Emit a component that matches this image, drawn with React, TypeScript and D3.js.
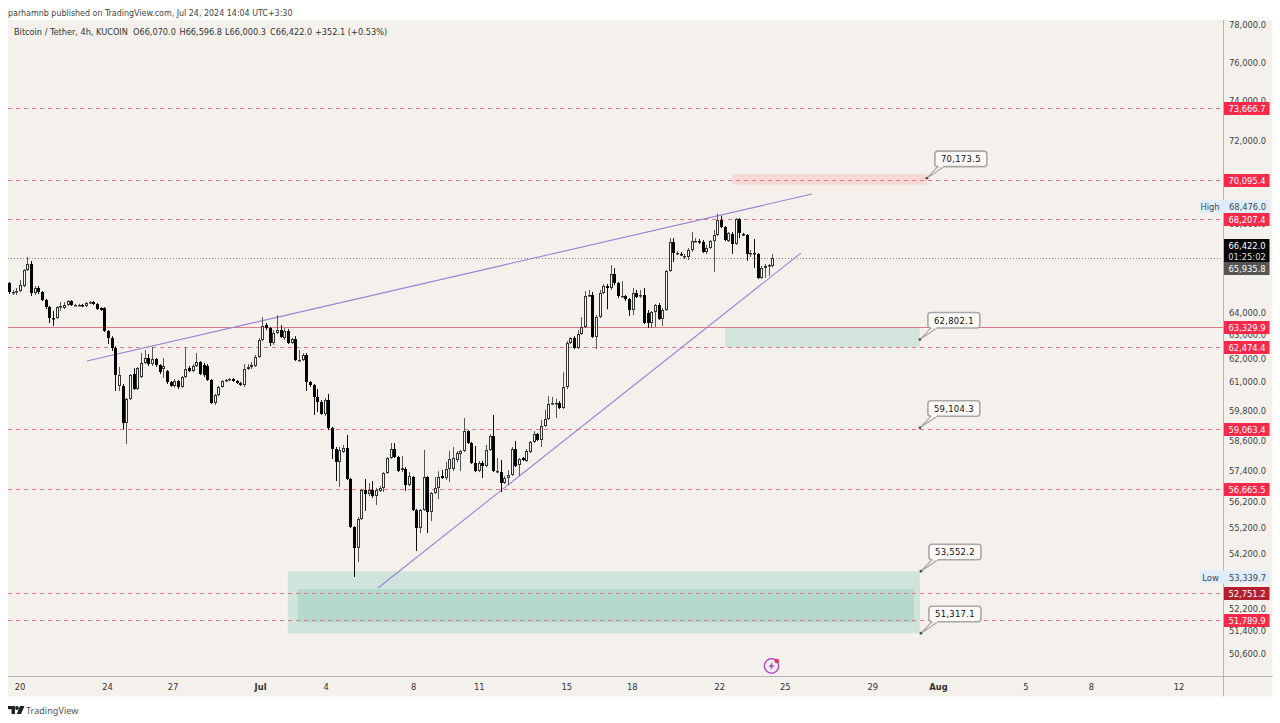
import React from "react";
import * as d3 from "d3";

const opens = [
65290,64890,64890,64930,65160,65880,66150,64850,65070,64890,
64530,64220,63740,63740,64220,64180,64310,64490,64310,64310,
64310,64270,64400,64440,64360,64180,64180,63170,62870,62440,
60830,60830,59300,60290,61330,60700,61210,61800,62010,61750,
61970,61710,61540,61460,61000,60830,61040,60790,61210,61580,
61460,61670,61840,61710,61670,61080,60120,60450,60790,61040,
61080,61120,61040,60960,60870,61540,61630,61670,62050,62780,
63430,63300,62650,63080,63210,62870,63170,62650,62820,61920,
61920,62140,61000,60870,60370,60160,59670,60240,59090,58250,
57730,58130,58290,57060,55200,54410,55510,56630,56470,56630,
56390,56590,56710,57290,57890,58250,57930,57410,57450,56820,
57140,55860,55170,55860,57140,55780,56510,56710,57180,57100,
57450,57450,57810,58050,58170,58970,58490,57690,57370,57690,
57570,58210,58770,57370,57330,56900,57100,57220,58250,57610,
57890,57770,58130,58530,58850,58610,59180,59460,60080,60080,
60120,59910,60790,62650,62870,62440,63040,63350,64710,64760,
62910,63780,64850,65160,65070,65700,65290,64710,64710,64580,
64090,64850,64760,64760,63960,63520,64000,64310,63700,64090,
65830,67160,66650,66610,66520,66470,66790,67200,67200,67160,
66700,66880,67200,67480,68180,67850,67200,67530,67070,68230,
67530,67480,66650,66650,66610,65520,65970,66060,66070];

const closes = [
64890,64890,64930,65200,65880,66150,64850,65070,64890,64530,
64220,63740,63700,64220,64270,64310,64490,64310,64310,64310,
64270,64400,64440,64360,64130,64090,63170,62870,62440,61290,
61290,59300,60290,61290,60700,61580,61800,62010,61750,61970,
61710,61410,61670,61000,60830,61040,60790,61210,61540,61460,
61670,61840,61330,61290,61080,60120,60450,60790,61040,61080,
61120,61040,60960,60870,61540,61630,61710,62050,62780,63390,
63300,62650,63080,63210,62910,63170,62650,62820,61920,61920,
62140,61000,60870,60370,60160,59670,60240,59090,58250,57730,
58210,58290,57060,55200,54410,55510,56630,56470,56630,56390,
56630,56710,57290,57890,58250,57930,57370,57490,56820,57180,
55860,55170,55860,57140,55780,56510,56710,57140,57100,57450,
57850,57890,58090,58170,58970,58490,57690,57370,57690,57570,
58210,58770,57370,57370,56900,57100,57220,58250,57570,57850,
57810,58170,58530,58850,58610,59180,59460,60080,60120,60120,
59910,60790,62650,62870,62440,63040,63350,64710,64760,62910,
63780,64850,65160,65070,65700,65290,64710,64710,64580,64090,
64850,64670,64760,63520,63520,64000,64310,63700,64090,65830,
67160,66650,66650,66560,66520,66790,67200,67200,67160,66700,
66880,67200,67480,68180,67850,67250,67580,67070,68230,67580,
67480,66610,66650,66610,65520,65970,66060,66100,66422];

const highs = [
65340,64980,65070,65430,65920,66470,66290,65160,65160,64930,
64580,64270,64050,64270,64440,64440,64530,64530,64360,64360,
64360,64440,64490,64490,64400,64220,64220,63210,62950,62520,
61630,60910,60330,61330,61580,61630,62220,62350,62180,62480,
62010,61750,62010,61500,61040,61120,61080,61250,62440,61670,
61750,62220,61880,61800,61750,61120,60500,60830,61080,61120,
61160,61160,61080,61000,61750,61750,61840,62140,62870,63780,
63520,63350,63210,63870,63430,63300,63260,62870,62950,62350,
62220,62220,61040,60910,60700,60240,60330,60500,59140,58330,
58330,58410,58810,57100,55240,55590,56670,57060,56900,56980,
56710,56780,57330,57930,58490,58490,57970,57970,57530,57330,
57180,55900,55900,58210,57180,56550,57140,57370,57410,57730,
58170,58330,58170,58210,59500,59010,58530,58370,57770,57770,
58410,58850,59630,57890,57810,57180,57410,58330,58570,57890,
57930,58250,58570,58970,58890,59420,59830,60410,60370,60290,
60200,61410,62740,62910,62950,63210,63780,64930,64980,64890,
63870,64980,65250,65250,66100,65970,65340,65380,64760,64620,
65070,64980,64980,65070,64090,64050,64360,64400,64180,65880,
67340,67340,66740,66700,66610,66880,67620,67340,67300,67250,
67020,67250,67720,68476,68380,67900,67620,67620,68280,68280,
67580,67530,66790,67300,66650,66060,66150,66150,66597];

const lows = [
64800,64760,64760,64890,65110,65830,64710,64760,64800,64490,
64130,63520,63390,63700,64050,64130,64270,64270,64270,64270,
64220,64220,64360,64310,64090,64050,63130,62610,62310,60620,
60620,59050,58450,60240,60660,60660,61160,61750,61670,61670,
61630,61330,61160,60910,60790,60750,60700,60750,61160,61410,
61410,61630,61290,61210,61040,60080,60040,60410,60750,61000,
61040,61000,60910,60830,60790,61500,61540,61630,62010,62740,
63210,62520,62570,63040,62870,62780,62610,62610,61880,61880,
61880,60620,60790,59630,59750,59630,59580,59010,57850,56980,
56750,58090,57020,55170,53340,53890,55470,55820,56390,56320,
56050,56550,56550,57260,57850,57890,57330,57330,56590,56780,
55820,54300,54980,55820,54980,55430,56470,56280,57060,57020,
56940,57370,57730,57370,58130,58450,57650,57330,57330,57100,
57530,58170,57330,57290,56550,56860,56820,57180,57530,57180,
57770,57730,58090,58490,58570,58330,59140,59420,60040,59500,
59870,59870,60700,62610,62390,62390,63000,63300,64670,62870,
62390,63740,64800,64130,64980,65200,64620,64670,64490,63830,
63870,64620,64620,63480,63300,63300,63350,63650,63390,64050,
65790,66240,66560,66520,66380,66330,66700,67160,67070,66650,
66610,66840,65790,67440,67810,67200,67160,66610,67020,67340,
67440,66290,66470,65970,65470,65470,65520,65610,66000];

const priceTicks = [78000,76000,74000,72000,68000,64000,63000,62000,61000,59800,58600,57400,56200,55200,54200,52200,51400,50600];
const dashedLevels = [73666.7,70095.4,68207.4,62474.4,59063.4,56665.5,52751.2,51789.9];
const solidLevel = 63329.9;
const lastPrice = 66422.0;
const redTags = [73666.7,70095.4,68207.4,63329.9,62474.4,59063.4,56665.5,51789.9];
const darkRedTag = 52751.2;

// days counted from Jun 20
const timeLabels = ["20","24","27","Jul","4","8","11","15","18","22","25","29","Aug","5","8","12"];
const timeDays = [0,4,7,11,14,18,21,25,28,32,35,39,42,46,49,53];
const boldLabels = ["Jul","Aug"];

// trend lines: [day, price, day, price]
const upperTrend = [3.06,61880,36.21,69410];
const lowerTrend = [16.37,52940,35.71,66650];

// zones: [dayStart, dayEnd, priceTop, priceBottom]
const outerSupport = [12.25,41.15,53552.2,51317.1];
const innerSupport = [12.71,40.88,52900,51710];
const midSupport = [32.24,41.15,63329.9,62474.4];
const resistance = [32.56,41.47,70370,69860];

// callouts: [day, price]
const calloutDays = [41.47,41.15,41.15,41.2,41.2];
const calloutPrices = [70173.5,62802.1,59104.3,53552.2,51317.1];

const fmt = d3.format(",.1f");
const FONT = "'DejaVu Sans Condensed','DejaVu Sans','Noto Sans',sans-serif";
const W = 1280, H = 723;
const PANE = { l: 8, r: 1272.5, t: 20, b: 696.5, ax: 1223.5, tx: 676 };
const BG = "#f4f1ec";
const RED = "#f7294a";
const AXFS = 9.3;
const LEGFS = 9.1;

const y = d3.scaleLog().domain([78000, 50600]).range([24.4, 653.7]);
const xDay = d3.scaleLinear().domain([0, 53]).range([20, 1179]);
const xCandle = d3.scaleLinear().domain([0, 208]).range([xDay(-0.5), xDay(34.4)]);

const Tag = ({ yc, fill, label, h = 13 }: any) => (
  <g>
    <rect x={1224} y={yc - h / 2} width={45.5} height={h} fill={fill} />
    <text x={1247} y={yc + 3.4} fill="#fff" textAnchor="middle" fontSize={AXFS} fontFamily={FONT}>{label}</text>
  </g>
);

const Callout = ({ day, price }: any) => {
  const ax = xDay(day), ay = y(price);
  const bx = ax + 8, by = ay - 27;
  return (
    <g>
      <path d={`M${ax},${ay} L${bx + 3},${by + 15.5} L${bx + 9},${by + 15.5} Z`} fill="#fbfaf8" stroke="#a9a7a3" strokeWidth={1.2} />
      <rect x={bx} y={by} width={52} height={15.5} rx={3} fill="#fbfaf8" stroke="#a9a7a3" strokeWidth={1.6} />
      <rect x={bx + 3.4} y={by + 14} width={5} height={2.2} fill="#fbfaf8" />
      <circle cx={ax} cy={ay} r={1.4} fill="#555" />
      <text x={bx + 26} y={by + 11} textAnchor="middle" fontSize={9.4} letterSpacing={0.3} fill="#111" fontFamily={FONT}>{fmt(price)}</text>
    </g>
  );
};

const zoneRect = (z: number[], fill: string) => (
  <rect x={xDay(z[0])} y={y(z[2])} width={xDay(z[1]) - xDay(z[0])} height={y(z[3]) - y(z[2])} fill={fill} />
);

export default function App() {
  const line = d3.line();
  return (
    <svg width={W} height={H} style={{ position: "absolute", left: 0, top: 0, background: "#fff" }}>
      <defs>
        <clipPath id="pane"><rect x={PANE.l} y={PANE.t} width={PANE.ax - PANE.l} height={PANE.tx - PANE.t} /></clipPath>
        <filter id="soft" x="0" y="0" width="100%" height="100%"><feGaussianBlur stdDeviation="0.3" /></filter>
      </defs>
      <text x={8} y={15.5} fontSize={8.85} fill="#444" fontFamily={FONT}>parhamnb published on TradingView.com, Jul 24, 2024 14:04 UTC+3:30</text>
      <rect x={PANE.l} y={PANE.t} width={PANE.r - PANE.l} height={PANE.b - PANE.t} fill={BG} />

      <g clipPath="url(#pane)">
        {zoneRect(resistance, "#f6d9d5")}
        {zoneRect(midSupport, "#d3e5dd")}
        {zoneRect(outerSupport, "#d0e4dc")}
        {zoneRect(innerSupport, "#b5d9cc")}

        {dashedLevels.map((p) => (
          <line key={p} x1={PANE.l} x2={PANE.ax} y1={Math.round(y(p)) + 0.5} y2={Math.round(y(p)) + 0.5} stroke="#f0707f" strokeDasharray="4 4" />
        ))}
        <line x1={PANE.l} x2={PANE.ax} y1={Math.round(y(solidLevel)) + 0.5} y2={Math.round(y(solidLevel)) + 0.5} stroke="#dd7b85" />
        <line x1={PANE.l} x2={PANE.ax} y1={258.5} y2={258.5} stroke="#888" strokeDasharray="1 2" />

        {[upperTrend, lowerTrend].map((t, i) => (
          <path key={i} d={line([[xDay(t[0]), y(t[1])], [xDay(t[2]), y(t[3])]]) as string} stroke="#9b82d6" strokeWidth={1.1} fill="none" />
        ))}

        <g filter="url(#soft)">
          {closes.map((c, i) => {
            const o = opens[i];
            const up = c >= o;
            const cx = Math.round(xCandle(i));
            const top = Math.round(y(Math.max(o, c)));
            const bot = Math.max(top + 1, Math.round(y(Math.min(o, c))));
            return (
              <g key={i}>
                <line x1={cx + 0.5} x2={cx + 0.5} y1={y(highs[i])} y2={y(lows[i])} stroke={up ? "#555" : "#111"} />
                <rect x={cx - 0.5} y={top + 0.5} width={2} height={bot - top - 1 > 0 ? bot - top - 1 : 0.5} fill={up ? "#fafafa" : "#000"} stroke={up ? "#333" : "#000"} />
              </g>
            );
          })}
        </g>
      </g>

      {[0, 1, 2, 3, 4].map((i) => <Callout key={i} day={calloutDays[i]} price={calloutPrices[i]} />)}

      <text x={14} y={34.5} fontSize={LEGFS} fill="#333" fontFamily={FONT}>Bitcoin / Tether, 4h, KUCOIN</text>
      <text x={133} y={34.5} fontSize={LEGFS} fill="#333" fontFamily={FONT}>O66,070.0</text>
      <text x={179.5} y={34.5} fontSize={LEGFS} fill="#333" fontFamily={FONT}>H66,596.8</text>
      <text x={225} y={34.5} fontSize={LEGFS} fill="#333" fontFamily={FONT}>L66,000.3</text>
      <text x={270} y={34.5} fontSize={LEGFS} fill="#333" fontFamily={FONT}>C66,422.0</text>
      <text x={315} y={34.5} fontSize={LEGFS} fill="#333" fontFamily={FONT}>+352.1 (+0.53%)</text>

      {/* axes */}
      <line x1={PANE.ax} x2={PANE.ax} y1={PANE.t} y2={PANE.b} stroke="#b4b4b4" />
      <line x1={PANE.l} x2={PANE.r} y1={PANE.tx + 0.5} y2={PANE.tx + 0.5} stroke="#b4b4b4" />
      {priceTicks.map((p) => (
        <text key={p} x={1247.5} y={y(p) + 3.5} textAnchor="middle" fontSize={AXFS} fill="#444" fontFamily={FONT}>{fmt(p)}</text>
      ))}
      {timeLabels.map((t, i) => (
        <text key={i} x={xDay(timeDays[i])} y={690} textAnchor="middle" fontSize={AXFS} fontWeight={boldLabels.includes(t) ? 700 : 400} fill="#333" fontFamily={FONT}>{t}</text>
      ))}

      {/* High / Low tags */}
      <rect x={1200} y={200} width={69.5} height={13} fill="#e1ecf9" />
      <text x={1210} y={210} textAnchor="middle" fontSize={AXFS} fill="#3a4a5a" fontFamily={FONT}>High</text>
      <text x={1247.5} y={210} textAnchor="middle" fontSize={AXFS} fill="#3a4a5a" fontFamily={FONT}>{fmt(68476)}</text>
      <rect x={1200} y={y(53339.7) - 6.5} width={69.5} height={13} fill="#e1ecf9" />
      <text x={1210.5} y={y(53339.7) + 3.5} textAnchor="middle" fontSize={AXFS} fill="#3a4a5a" fontFamily={FONT}>Low</text>
      <text x={1247.5} y={y(53339.7) + 3.5} textAnchor="middle" fontSize={AXFS} fill="#3a4a5a" fontFamily={FONT}>{fmt(53339.7)}</text>

      {redTags.map((p) => <Tag key={p} yc={Math.round(y(p)) + 0.5} fill={RED} label={fmt(p)} />)}
      <Tag yc={Math.round(y(darkRedTag)) + 0.5} fill="#b2202f" label={fmt(darkRedTag)} />

      <rect x={1224} y={239} width={45.5} height={23} fill="#050505" />
      <text x={1247} y={248.5} fill="#fff" textAnchor="middle" fontSize={AXFS} fontFamily={FONT}>{fmt(lastPrice)}</text>
      <text x={1247} y={259.5} fill="#ddd" textAnchor="middle" fontSize={AXFS} fontFamily={FONT}>01:25:02</text>
      <rect x={1224} y={262} width={45.5} height={13} fill="#555" />
      <text x={1247} y={271.8} fill="#fff" textAnchor="middle" fontSize={AXFS} fontFamily={FONT}>{fmt(65935.8)}</text>

      {/* event icon */}
      <g>
        <circle cx={771.5} cy={666} r={7.2} fill="none" stroke="#b44fc9" strokeWidth={1.5} />
        <path d="M773,661.5 L768.5,667 L771.2,667 L770,670.5 L774.5,665 L771.8,665 Z" fill="#b44fc9" />
        <circle cx={776.8} cy={661} r={2.2} fill="#f7294a" />
      </g>

      {/* TradingView logo */}
      <g fill="#222">
        <path d="M8,706 H15 V714 H11.5 V709.3 H8 Z" />
        <circle cx={17} cy={708} r={1.9} />
        <path d="M20,706 H24.5 L21,714 H16.8 Z" />
      </g>
      <text x={26} y={714} fontSize={9.1} fill="#555" fontFamily="'Noto Sans',sans-serif">TradingView</text>
    </svg>
  );
}
